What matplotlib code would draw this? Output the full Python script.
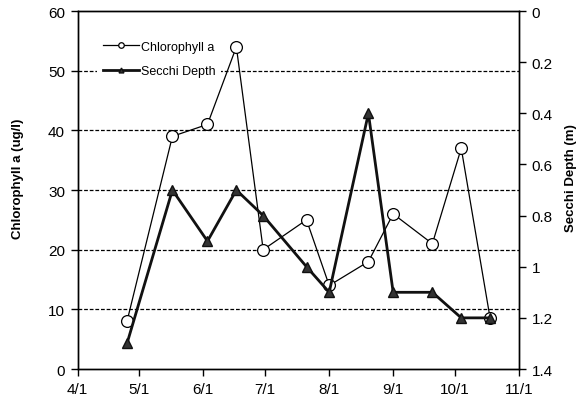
import matplotlib
matplotlib.use("Agg")
import matplotlib.pyplot as plt
from matplotlib.lines import Line2D
import datetime as dt

plt.rcParams['font.family'] = ['Liberation Sans', 'DejaVu Sans']

# ---- data ----
sample_dates = ["2000-04-25", "2000-05-17", "2000-06-03", "2000-06-17", "2000-06-30",
                "2000-07-21", "2000-08-01", "2000-08-20", "2000-09-01", "2000-09-20",
                "2000-10-04", "2000-10-18"]
chlorophyll = [8, 39, 41, 54, 20, 25, 14, 18, 26, 21, 37, 8.5]
secchi = [1.3, 0.7, 0.9, 0.7, 0.8, 1.0, 1.1, 0.4, 1.1, 1.1, 1.2, 1.2]
x_tick_dates = ["2000-04-01", "2000-05-01", "2000-06-01", "2000-07-01",
                "2000-08-01", "2000-09-01", "2000-10-01", "2000-11-01"]
x_tick_labels = ["4/1", "5/1", "6/1", "7/1", "8/1", "9/1", "10/1", "11/1"]
left_ticks = [0, 10, 20, 30, 40, 50, 60]
right_ticks = [0, 0.2, 0.4, 0.6, 0.8, 1.0, 1.2, 1.4]
right_tick_labels = ["0", "0.2", "0.4", "0.6", "0.8", "1", "1.2", "1.4"]

dates = [dt.datetime.fromisoformat(d) for d in sample_dates]
tdates = [dt.datetime.fromisoformat(d) for d in x_tick_dates]

fig = plt.figure(figsize=(5.81, 4.02), dpi=100)
ax = fig.add_axes([0.1334, 0.0796, 0.8933 - 0.1334, 0.970 - 0.0796])
ax2 = ax.twinx()

# grid lines
for v in left_ticks[1:-1]:
    ax.axhline(v, color='black', lw=0.9, ls=(0, (3, 1.5)), zorder=1)

ax.plot(dates, chlorophyll, color='black', lw=0.9, marker='o', markersize=8.5,
        markerfacecolor='white', markeredgecolor='black', markeredgewidth=0.9,
        zorder=3)
ax2.plot(dates, secchi, color='#111111', lw=2.0, marker='^', markersize=6.5,
         markerfacecolor='#333333', markeredgecolor='#111111', zorder=3)

ax.set_xlim(tdates[0], tdates[-1])
ax.set_ylim(0, 60)
ax2.set_ylim(1.4, 0)

ax.set_xticks(tdates)
ax.set_xticklabels(x_tick_labels)
ax.set_yticks(left_ticks)
ax.set_yticklabels([str(v) for v in left_ticks])
ax2.set_yticks(right_ticks)
ax2.set_yticklabels(right_tick_labels)

for a in (ax, ax2):
    a.tick_params(direction='out', length=5, width=1, labelsize=11, colors='black', pad=4)
    for s in a.spines.values():
        s.set_linewidth(1.0)
        s.set_color('black')

ax.set_ylabel('Chlorophyll a (ug/l)', fontsize=9.5, fontweight='bold')
ax.yaxis.set_label_coords(-0.122, 0.535)
ax2.set_ylabel('Secchi Depth (m)', fontsize=9.5, fontweight='bold', rotation=90)
ax2.yaxis.set_label_coords(1.105, 0.535)

handles = [
    Line2D([], [], color='black', lw=0.9, marker='o', markersize=4,
           markerfacecolor='white', markeredgecolor='black', markeredgewidth=0.9),
    Line2D([], [], color='#111111', lw=2.0, marker='^', markersize=3.5,
           markerfacecolor='#333333', markeredgecolor='#111111'),
]
labels = ['Chlorophyll a', 'Secchi Depth']
leg = ax2.legend(handles, labels, loc='upper left', bbox_to_anchor=(0.044, 0.933),
                 frameon=True, fancybox=False, facecolor='white', edgecolor='none',
                 framealpha=1, fontsize=9, handlelength=2.9, labelspacing=1.0,
                 handletextpad=0.15, borderaxespad=0, borderpad=0.45)
ax.set_zorder(ax2.get_zorder() - 1)
ax2.patch.set_visible(False)

fig.savefig('out.png', dpi=100)
